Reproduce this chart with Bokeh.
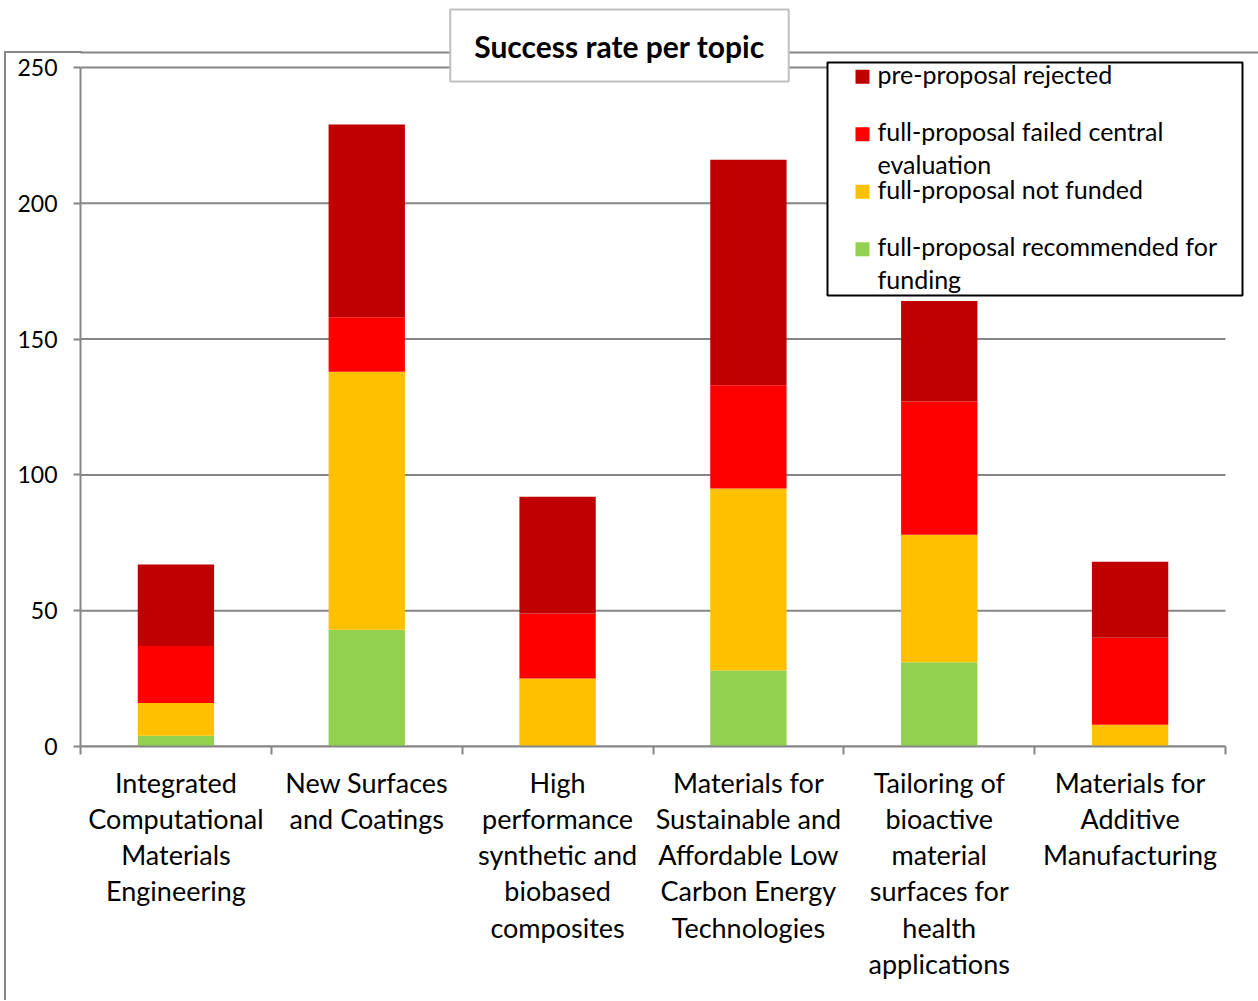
from bokeh.plotting import figure
from bokeh.models import (FixedTicker, LinearAxis, Range1d,
                          BoxAnnotation, Label, ColumnDataSource, InlineStyleSheet)
from bokeh.embed import file_html
from bokeh.resources import INLINE

# ---- data ----
categories = [
    "Integrated\nComputational\nMaterials\nEngineering",
    "New Surfaces\nand Coatings",
    "High\nperformance\nsynthetic and\nbiobased\ncomposites",
    "Materials for\nSustainable and\nAffordable Low\nCarbon Energy\nTechnologies",
    "Tailoring of\nbioactive\nmaterial\nsurfaces for\nhealth\napplications",
    "Materials for\nAdditive\nManufacturing",
]
recommended = [4, 43, 0, 28, 31, 0]
not_funded = [12, 95, 25, 67, 47, 8]
failed_central = [21, 20, 24, 38, 49, 32]
pre_rejected = [30, 71, 43, 83, 37, 28]
series_names = ["full-proposal recommended for\nfunding",
                "full-proposal not funded",
                "full-proposal failed central\nevaluation",
                "pre-proposal rejected"]
series_colors = ["#92D050", "#FFC000", "#FF0000", "#C00000"]
y_ticks = [0, 50, 100, 150, 200, 250]
title_text = "Success rate per topic"

FONT = "Lato"
GRAY = "#868686"

n = len(categories)
centers = [i + 0.5 for i in range(n)]
boundaries = list(range(n + 1))
y_max = y_ticks[-1]

# layout (pixels)
W, H = 1258, 1000
FR_LEFT, FR_BOTTOM, AX_TOP, AX_RIGHT = 80, 746, 67, 1225
y_end = y_max * FR_BOTTOM / (FR_BOTTOM - AX_TOP)
x_end = n * (W - FR_LEFT) / (AX_RIGHT - FR_LEFT)

src = ColumnDataSource(dict(x=centers, rec=recommended, nf=not_funded,
                            fc=failed_central, pr=pre_rejected))

css = InlineStyleSheet(css="""
:host { position: relative; }
:host::after { content: ""; position: absolute; left: 4px; top: 51px; width: 76px; bottom: 0px;
  border-left: 2px solid #868686; border-top: 2px solid #868686; pointer-events: none; z-index: 5; }
""")

p = figure(width=W, height=H, output_backend="svg", toolbar_location=None,
           x_range=Range1d(0, x_end), y_range=Range1d(0, y_end),
           min_border_left=FR_LEFT, min_border_right=0, min_border_top=0,
           min_border_bottom=H - FR_BOTTOM, x_axis_location=None, y_axis_location=None,
           stylesheets=[css])
p.outline_line_color = None
p.xgrid.visible = False
p.ygrid.visible = False

# horizontal grid lines at the y ticks
p.segment(x0=[0] * len(y_ticks), x1=[n] * len(y_ticks), y0=y_ticks, y1=y_ticks,
          line_color=GRAY, line_width=2)

# outer chart-area border (top edge)
outer = BoxAnnotation(left=-20, right=1400, top=FR_BOTTOM - 52, bottom=-400,
                      left_units="screen", right_units="screen",
                      top_units="screen", bottom_units="screen",
                      fill_color=None, line_color=GRAY, line_alpha=1.0, line_width=2,
                      level="underlay")
p.add_layout(outer)

renderers = p.vbar_stack(["rec", "nf", "fc", "pr"], x="x", width=0.4, source=src,
                         color=series_colors, line_color=None)

# legend box
legbox = BoxAnnotation(left=827 - FR_LEFT, right=1242 - FR_LEFT,
                       top=FR_BOTTOM - 62, bottom=FR_BOTTOM - 295,
                       left_units="screen", right_units="screen",
                       top_units="screen", bottom_units="screen",
                       fill_color="white", fill_alpha=1.0, line_color="black",
                       line_alpha=1.0, line_width=2)
p.add_layout(legbox)

# legend entries (top to bottom: reverse of stacking order)
LEG_BASE0, LEG_STEP = 83.3, 57.5
for k, i in enumerate([3, 2, 1, 0]):
    base = LEG_BASE0 + k * LEG_STEP
    sq = BoxAnnotation(left=855 - FR_LEFT, right=869 - FR_LEFT,
                       top=FR_BOTTOM - (base - 14), bottom=FR_BOTTOM - base,
                       left_units="screen", right_units="screen",
                       top_units="screen", bottom_units="screen",
                       fill_color=series_colors[i], fill_alpha=1.0, line_color=None)
    p.add_layout(sq)
    lab = Label(x=877 - FR_LEFT, y=FR_BOTTOM - (base - 25), x_units="screen", y_units="screen",
                text=series_names[i], text_align="left", text_baseline="top",
                text_font=FONT, text_font_size="25px", text_color="black",
                text_line_height=1.1)
    p.add_layout(lab)

yax = LinearAxis(ticker=FixedTicker(ticks=y_ticks), bounds=(0, y_max))
yax.axis_line_color = GRAY
yax.axis_line_width = 2
yax.major_tick_line_color = GRAY
yax.major_tick_line_width = 2
yax.major_tick_out = 7
yax.major_tick_in = 0
yax.minor_tick_line_color = None
yax.major_label_text_font = FONT
yax.major_label_text_font_size = "23px"
yax.major_label_text_color = "black"
yax.major_label_standoff = 16
p.add_layout(yax, "left")

xax = LinearAxis(ticker=FixedTicker(ticks=centers, minor_ticks=boundaries), bounds=(0, n))
xax.major_label_overrides = {c: lab for c, lab in zip(centers, categories)}
xax.axis_line_color = GRAY
xax.axis_line_width = 2
xax.major_tick_line_color = None
xax.major_tick_out = 0
xax.major_tick_in = 0
xax.minor_tick_line_color = GRAY
xax.minor_tick_line_width = 2
xax.minor_tick_out = 8
xax.minor_tick_in = 0
xax.major_label_text_font = FONT
xax.major_label_text_font_size = "27px"
xax.major_label_text_color = "black"
xax.major_label_text_line_height = 1.1
xax.major_label_standoff = 11
p.add_layout(xax, "below")

title = Label(x=619 - FR_LEFT, y=FR_BOTTOM - 45, x_units="screen", y_units="screen",
              text=title_text, text_align="center", text_baseline="middle",
              text_font=FONT, text_font_style="bold", text_font_size="30px",
              text_color="black", background_fill_color="white",
              border_line_color="#BFBFBF", border_line_width=2, padding=(24, 18))
p.add_layout(title)

open("out.html", "w").write(file_html(p, INLINE))
